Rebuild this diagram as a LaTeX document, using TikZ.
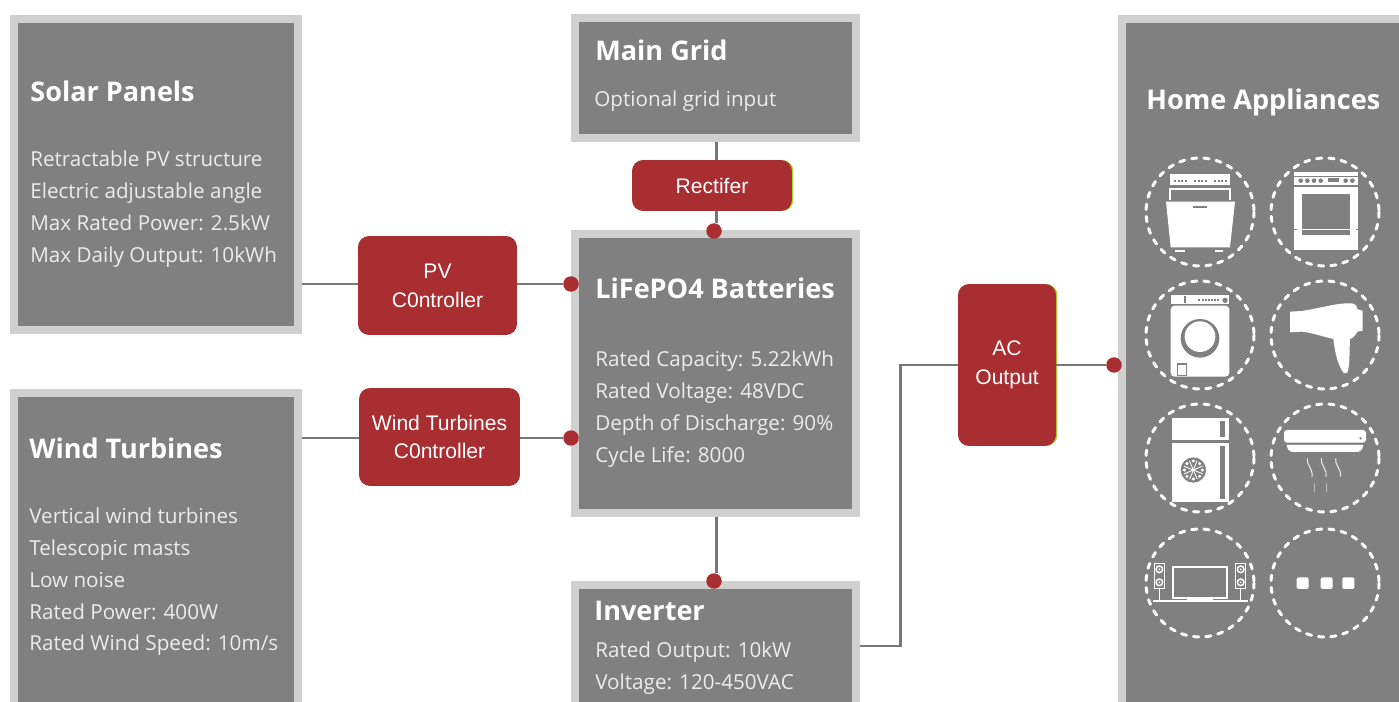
\documentclass[tikz,border=0pt]{standalone}
\usepackage{fontspec}
\setmainfont{Open Sans}
\newfontfamily\redfont{Liberation Sans}
\usetikzlibrary{calc,arrows.meta}
\definecolor{boxgray}{HTML}{808080}
\definecolor{boxedge}{HTML}{D0D0D0}
\definecolor{boxtext}{HTML}{ECECEC}
\definecolor{redbox}{HTML}{A92E32}
\definecolor{wiregray}{HTML}{777777}
\definecolor{limeedge}{HTML}{A6D63C}
\begin{document}
\begin{tikzpicture}[x=0.02cm,y=-0.02cm,
  greybox/.style={draw=boxedge,fill=boxgray,line width=4.5pt,inner sep=0pt},
  titletext/.style={anchor=west,inner sep=0pt,text=white,font=\fontsize{15.4}{18}\selectfont\bfseries},
  bodytext/.style={anchor=west,align=left,inner sep=0pt,text=boxtext,font=\fontsize{11.75}{18.1}\selectfont},
  ctrlbox/.style={fill=redbox,rounded corners=0.22cm,inner sep=0pt,align=center,text=white,font=\redfont\fontsize{12}{16.4}\selectfont},
  limebox/.style={ctrlbox,preaction={fill=limeedge,transform canvas={xshift=0.8pt}}},
  wire/.style={draw=wiregray,line width=1.7pt},
  enddot/.style={circle,fill=redbox,minimum size=0.31cm,inner sep=0pt},
  dashring/.style={draw=white,line width=1.7pt,line cap=round,dash pattern=on 3pt off 4pt},
  iconA/.style={shift={(1120,140)},x=0.02cm/3,y=-0.02cm/3},
  iconB/.style={shift={(1120,390)},x=0.02cm/3,y=-0.02cm/3}]
  \useasboundingbox (0,0) rectangle (1399,702);
  \clip (0,0) rectangle (1399,702);
  \fill[white] (0,0) rectangle (1399,702);
  % Grey panels, the lower ones run off the page
  \node[greybox,minimum width=5.68cm,minimum height=6.22cm] (solar) at (156,174.5) {};
  \node[greybox,minimum width=5.68cm,minimum height=7.34cm] (wind) at (156,576.5) {};
  \node[greybox,minimum width=5.62cm,minimum height=2.4cm] (grid) at (715.5,78) {};
  \node[greybox,minimum width=5.62cm,minimum height=5.58cm] (batt) at (715.5,373.5) {};
  \node[greybox,minimum width=5.62cm,minimum height=3.5cm] (inv) at (715.5,672.5) {};
  \node[greybox,minimum width=6.76cm,minimum height=14.82cm] (home) at (1291,389.5) {};
  % Panel texts
  \node[titletext] (solartitle) at (30,91) {Solar Panels};
  \node[bodytext] (solarbody) at (30,209) {Retractable PV structure\\Electric adjustable angle\\Max Rated Power: 2.5kW\\Max Daily Output: 10kWh};
  \node[titletext] (windtitle) at (29,448) {Wind Turbines};
  \node[bodytext] (windbody) at (29,582) {Vertical wind turbines\\Telescopic masts\\Low noise\\Rated Power: 400W\\Rated Wind Speed: 10m/s};
  \node[titletext] (gridtitle) at (595,50) {Main Grid};
  \node[bodytext] (gridbody) at (594,101) {Optional grid input};
  \node[titletext] (batttitle) at (595,288) {LiFePO4 Batteries};
  \node[bodytext] (battbody) at (595,409) {Rated Capacity: 5.22kWh\\Rated Voltage: 48VDC\\Depth of Discharge: 90\%\\Cycle Life: 8000};
  \node[titletext] (invtitle) at (594,611) {Inverter};
  \node[bodytext] (invbody) at (595,668) {Rated Output: 10kW\\Voltage: 120-450VAC};
  \node[titletext] (hometitle) at (1146,102) {Home Appliances};
  % Red boxes
  \node[ctrlbox,minimum width=3.18cm,minimum height=1.98cm] (pvctrl) at (437.5,285.5) {PV\\C0ntroller};
  \node[ctrlbox,minimum width=3.22cm,minimum height=1.96cm] (windctrl) at (439.5,437) {Wind Turbines\\C0ntroller};
  \node[limebox,minimum width=3.2cm,minimum height=1.02cm] (rect) at (712,185.5) {Rectifer};
  \node[limebox,minimum width=1.96cm,minimum height=3.24cm] (acout) at (1007,365) {AC\\Output};
  % End dots
  \node[enddot] (dotpv) at (571,284) {};
  \node[enddot] (dotwind) at (571,438) {};
  \node[enddot] (dotrect) at (714,231) {};
  \node[enddot] (dotinv) at (714,581) {};
  \node[enddot] (dothome) at (1114,365) {};
  % Connectors
  \draw[wire] (solar.east |- dotpv) -- (pvctrl.west |- dotpv);
  \draw[wire] (pvctrl.east |- dotpv) -- (dotpv);
  \draw[wire] (wind.east |- dotwind) -- (windctrl.west |- dotwind);
  \draw[wire] (windctrl.east |- dotwind) -- (dotwind);
  \draw[wire] (grid.south -| 716,0) -- (rect.north -| 716,0);
  \draw[wire] (rect.south -| 716,0) -- (dotrect.north -| 716,0);
  \draw[wire] (batt.south -| 716,0) -- (dotinv.north -| 716,0);
  \draw[wire] (inv.east |- 0,646) -- (900,646) -- (900,365) -- (acout.west);
  \draw[wire] (acout.east) -- (dothome);
  % Dashed rings
  \foreach \cx in {1200,1325} {
    \foreach \cy in {212,335,458,583} {
      \draw[dashring] (\cx,\cy) circle (54);
    }
  }
  % Dishwasher
  \begin{scope}[iconA]
    \fill[white] (150,103) rectangle (330,135);
    \foreach \dx in {162,222,282} {
      \draw[boxgray,line width=0.9pt,dash pattern=on 1.2pt off 0.8pt] (\dx,123) -- +(42,0);
    }
    \draw[white,line width=1.1pt] (150,180) -- (150,146) -- (330,146) -- (330,180);
    \fill[white] (138,185) -- (345,185) -- (330,322) -- (152,322) -- cycle;
    \draw[boxgray,line width=0.9pt] (220,201) -- (260,201);
    \draw[white,line width=1.1pt] (165,334) -- (195,334) (285,334) -- (310,334);
  \end{scope}
  % Oven
  \begin{scope}[iconA]
    \fill[white] (522,97) rectangle (715,107);
    \fill[white] (522,112) rectangle (715,135);
    \foreach \kx in {542,562,582,602,677,697} {
      \fill[boxgray] (\kx,122) circle (7);
    }
    \fill[boxgray] (625,115) rectangle (657,127);
    \fill[white] (522,140) rectangle (715,330);
    \fill[boxgray] (545,163) rectangle (690,285);
    \draw[boxgray,line width=0.7pt] (522,268) -- (545,268) (690,268) -- (715,268);
    \draw[white,line width=1.3pt] (535,155) -- (702,155);
    \draw[white,line width=0.8pt] (530,268) -- (708,268);
  \end{scope}
  % Washing machine
  \begin{scope}[iconA]
    \fill[white] (152,465) rectangle (328,491);
    \draw[boxgray,line width=0.7pt] (195,467) -- (195,489);
    \draw[boxgray,line width=0.8pt,dash pattern=on 1.2pt off 0.6pt] (235,480) -- (298,480);
    \fill[boxgray] (315,481) circle (8);
    \fill[white,rounded corners=0.08cm] (152,497) rectangle (328,710);
    \fill[boxgray] (240,595) circle (58);
    \fill[white] (240,590) circle (46);
    \draw[boxgray,line width=0.8pt] (173,672) rectangle (200,706);
  \end{scope}
  % Hair dryer
  \begin{scope}[iconA]
    \fill[white] (510,515) -- (545,513) .. controls (600,505) and (650,488) .. (695,490)
      .. controls (708,492) and (712,500) .. (712,508) -- (728,512) -- (728,572) -- (712,575)
      .. controls (705,590) and (695,595) .. (690,597) .. controls (688,640) and (690,675) .. (682,698)
      -- (672,700) .. controls (655,680) and (645,640) .. (640,597) .. controls (610,590) and (575,578) .. (545,575)
      -- (510,577) -- cycle;
  \end{scope}
  % Fridge
  \begin{scope}[iconB]
    \fill[white] (155,85) rectangle (328,150);
    \fill[white] (155,160) rectangle (328,335);
    \fill[boxgray] (300,92) rectangle (315,142);
    \fill[boxgray] (300,168) rectangle (315,328);
    \fill[boxgray] (220,240) circle (38);
    \foreach \ang in {0,45,...,315} {
      \fill[white] ($(220,240)+(\ang:27)$) circle (5);
      \draw[white,line width=0.5pt] (220,240) -- ($(220,240)+(\ang+22:30)$);
    }
  \end{scope}
  % Air conditioner
  \begin{scope}[iconB]
    \fill[white,rounded corners=0.06cm] (492,120) rectangle (738,158);
    \fill[boxgray] (722,145) circle (4);
    \fill[white] (500,165) -- (730,165) .. controls (728,180) and (720,186) .. (710,186) -- (520,186) .. controls (510,186) and (502,180) .. (500,165) -- cycle;
    \foreach \wx in {570,612,655} {
      \draw[white!85!boxgray,line width=0.6pt] (\wx-8,205) .. controls (\wx-12,225) and (\wx+10,235) .. (\wx+6,260);
    }
    \foreach \wx in {583,620} {
      \draw[white!45!boxgray,line width=0.6pt] (\wx,280) .. controls (\wx-4,290) and (\wx+4,295) .. (\wx,306);
    }
  \end{scope}
  % Television and speakers
  \begin{scope}[iconB]
    \draw[white,line width=1.3pt] (160,531) rectangle (320,625);
    \draw[white,line width=1.1pt] (100,632) -- (385,632);
    \fill[white] (200,626) rectangle (280,634);
    \foreach \sx in {118,362} {
      \draw[white,line width=0.9pt] (\sx-15,520) rectangle (\sx+15,596);
      \draw[white,line width=0.8pt] (\sx,538) circle (10) (\sx,577) circle (10);
      \fill[white] (\sx,538) circle (3) (\sx,577) circle (3);
      \draw[white,line width=0.9pt] (\sx,596) -- (\sx,632);
    }
  \end{scope}
  % More appliances
  \begin{scope}[iconB]
    \foreach \bx in {530,602,667} {
      \fill[white,rounded corners=0.03cm] (\bx,562) rectangle (\bx+36,597);
    }
  \end{scope}
\end{tikzpicture}
\end{document}
